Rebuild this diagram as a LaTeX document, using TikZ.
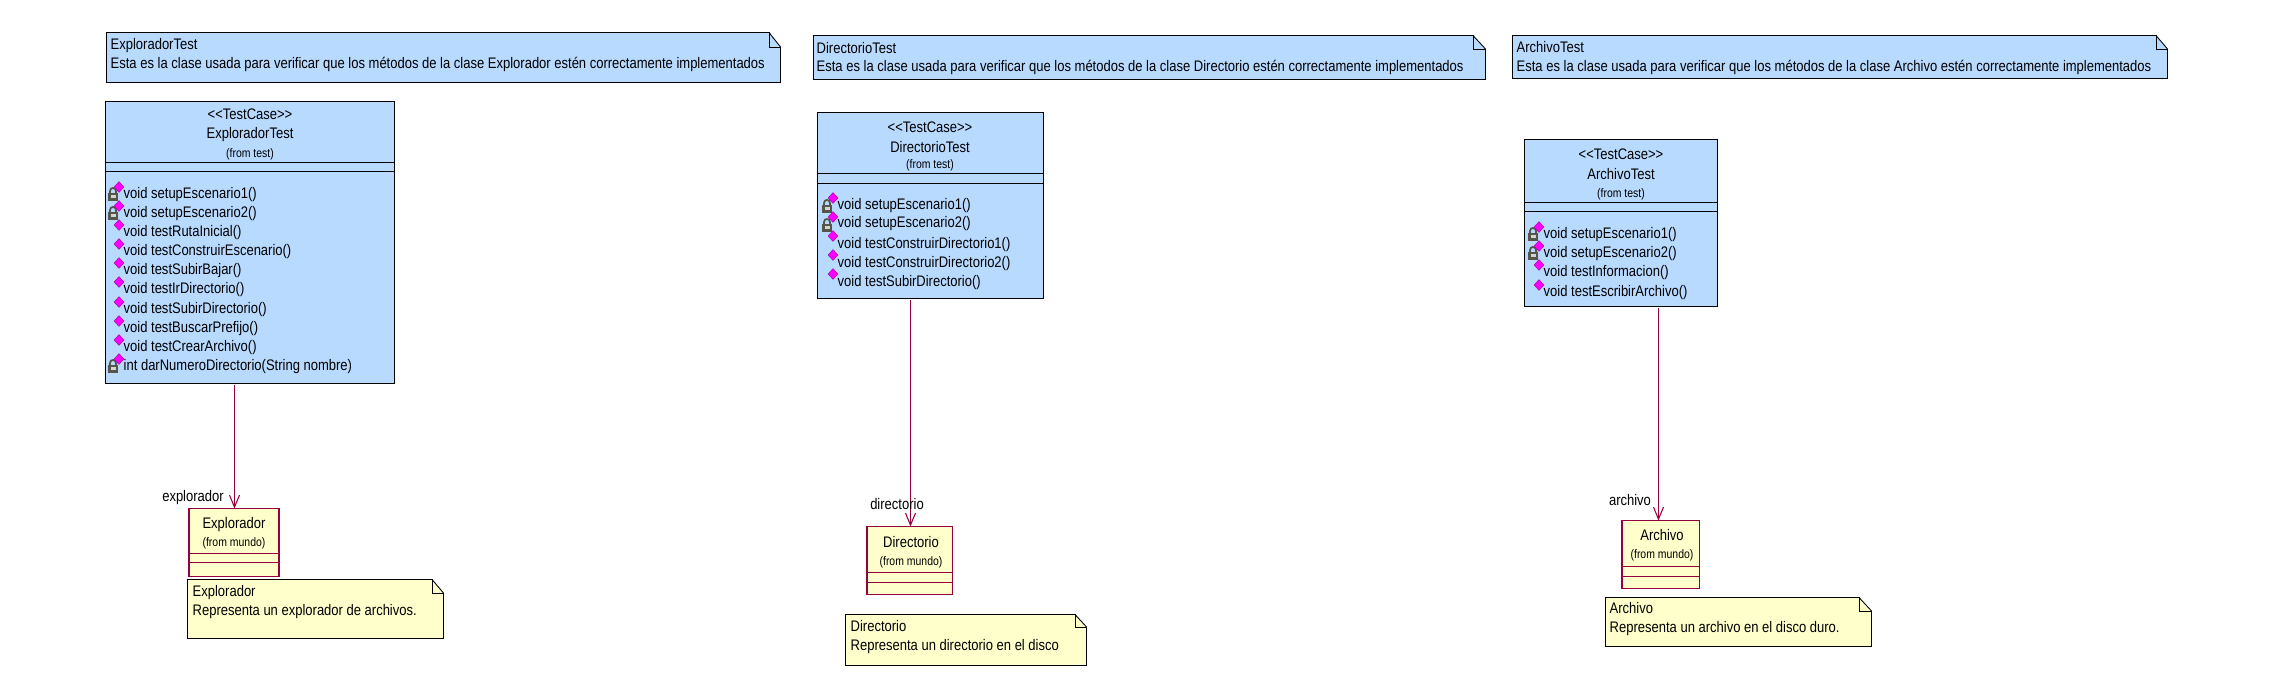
\documentclass[tikz,border=0pt]{standalone}
\usepackage{fontspec}
\setmainfont[FakeStretch=0.85]{Liberation Sans}
\usetikzlibrary{arrows.meta,shapes.geometric}
\definecolor{testblue}{RGB}{184,218,255}
\definecolor{mundoyellow}{RGB}{255,255,204}
\definecolor{mundored}{RGB}{150,0,60}
\definecolor{lockgray}{RGB}{85,85,75}
\definecolor{oppink}{RGB}{255,0,255}

\begin{document}
\begin{tikzpicture}[
    x=0.01cm, y=-0.01cm,
    testclass/.style={rectangle, draw=black, fill=testblue, line width=0.25pt, inner sep=0pt},
    mundoclass/.style={rectangle, draw=mundored, fill=mundoyellow, line width=0.3pt, inner sep=0pt},
    bluenote/.style={draw=black, fill=testblue, line width=0.25pt},
    yellownote/.style={draw=black, fill=mundoyellow, line width=0.25pt},
    sepline/.style={line width=0.25pt},
    label/.style={font=\fontsize{4.35}{5.4}\selectfont, inner sep=0pt, yshift=-0.012cm},
    small/.style={font=\fontsize{3.5}{4}\selectfont, inner sep=0pt, yshift=-0.012cm},
    notetext/.style={label, anchor=west},
    method/.style={label, anchor=west},
    op/.style={diamond, fill=oppink, draw=oppink!60!black, line width=0.1pt, inner sep=0pt, minimum width=0.10cm, minimum height=0.11cm},
    lock/.pic={
        \draw[lockgray, line width=0.5pt] (-3,1) -- (-3,-2) .. controls (-3,-6) and (3,-6) .. (3,-2) -- (3,1);
        \fill[lockgray] (-5,0) rectangle (5,8);
        \fill[white!75!lockgray] (-2.5,2) rectangle (2.5,5.5);
    },
    assoc/.style={-{Straight Barb[length=0.12cm,width=0.1cm]}, mundored, line width=0.3pt}
]
    \useasboundingbox (0,0) rectangle (2277,679);

    % notas de las clases de prueba
    \draw[bluenote] (106.5,32.5) -- (769,32.5) -- (780.5,47) -- (780.5,82.5) -- (106.5,82.5) -- cycle;
    \draw[sepline] (769,32.5) -- (769,47) -- (780.5,47);
    \node[notetext] (noteExplorador1) at (110,44) {ExploradorTest};
    \node[notetext] (noteExplorador2) at (110,63) {Esta es la clase usada para verificar que los métodos de la clase Explorador estén correctamente implementados};

    \draw[bluenote] (813.5,35.5) -- (1473,35.5) -- (1485.5,49) -- (1485.5,79.5) -- (813.5,79.5) -- cycle;
    \draw[sepline] (1473,35.5) -- (1473,49) -- (1485.5,49);
    \node[notetext] (noteDirectorio1) at (816,47) {DirectorioTest};
    \node[notetext] (noteDirectorio2) at (816,66) {Esta es la clase usada para verificar que los métodos de la clase Directorio estén correctamente implementados};

    \draw[bluenote] (1512.5,35.5) -- (2156,35.5) -- (2167.5,49) -- (2167.5,78.5) -- (1512.5,78.5) -- cycle;
    \draw[sepline] (2156,35.5) -- (2156,49) -- (2167.5,49);
    \node[notetext] (noteArchivo1) at (1516,46) {ArchivoTest};
    \node[notetext] (noteArchivo2) at (1516,66) {Esta es la clase usada para verificar que los métodos de la clase Archivo estén correctamente implementados};

    % clases de prueba
    \node[testclass, minimum width=2.89cm, minimum height=2.82cm] (exploradorTest) at (250,242.5) {};
    \draw[sepline] (105,162.5) -- (394,162.5) (105,171.5) -- (394,171.5);
    \node[label] (stereoExplorador) at (250,113) {<{}<TestCase>{}>};
    \node[label] (nameExplorador) at (250,133) {ExploradorTest};
    \node[small] (fromExplorador) at (250,153) {(from test)};

    \node[testclass, minimum width=2.25cm, minimum height=1.86cm] (directorioTest) at (930.5,205.5) {};
    \draw[sepline] (818,173.5) -- (1043,173.5) (818,183.5) -- (1043,183.5);
    \node[label] (stereoDirectorio) at (930,126) {<{}<TestCase>{}>};
    \node[label] (nameDirectorio) at (930,146) {DirectorioTest};
    \node[small] (fromDirectorio) at (930,164) {(from test)};

    \node[testclass, minimum width=1.93cm, minimum height=1.67cm] (archivoTest) at (1620.5,223) {};
    \draw[sepline] (1524,202.5) -- (1717,202.5) (1524,211.5) -- (1717,211.5);
    \node[label] (stereoArchivo) at (1621,153) {<{}<TestCase>{}>};
    \node[label] (nameArchivo) at (1621,173) {ArchivoTest};
    \node[small] (fromArchivo) at (1621,193) {(from test)};

    % operaciones de ExploradorTest
    \pic at (113,193) {lock};
    \pic at (113,212) {lock};
    \pic at (113,365) {lock};
    \node[op] (opE1) at (119,187) {};
    \node[op] (opE2) at (119,206) {};
    \node[op] (opE3) at (119,225) {};
    \node[op] (opE4) at (119,244) {};
    \node[op] (opE5) at (119,263) {};
    \node[op] (opE6) at (119,282) {};
    \node[op] (opE7) at (119,302) {};
    \node[op] (opE8) at (119,321) {};
    \node[op] (opE9) at (119,340) {};
    \node[op] (opE10) at (119,359) {};
    \node[method] (e1) at (123,193) {void setupEscenario1()};
    \node[method] (e2) at (123,212) {void setupEscenario2()};
    \node[method] (e3) at (123,231) {void testRutaInicial()};
    \node[method] (e4) at (123,250) {void testConstruirEscenario()};
    \node[method] (e5) at (123,269) {void testSubirBajar()};
    \node[method] (e6) at (123,288) {void testIrDirectorio()};
    \node[method] (e7) at (123,308) {void testSubirDirectorio()};
    \node[method] (e8) at (123,327) {void testBuscarPrefijo()};
    \node[method] (e9) at (123,346) {void testCrearArchivo()};
    \node[method] (e10) at (123,365) {int darNumeroDirectorio(String nombre)};

    % operaciones de DirectorioTest
    \pic at (827,205) {lock};
    \pic at (827,224) {lock};
    \node[op] (opD1) at (833,198) {};
    \node[op] (opD2) at (833,217) {};
    \node[op] (opD3) at (833,236) {};
    \node[op] (opD4) at (833,255) {};
    \node[op] (opD5) at (833,274) {};
    \node[method] (d1) at (837,204) {void setupEscenario1()};
    \node[method] (d2) at (837,222) {void setupEscenario2()};
    \node[method] (d3) at (837,243) {void testConstruirDirectorio1()};
    \node[method] (d4) at (837,262) {void testConstruirDirectorio2()};
    \node[method] (d5) at (837,281) {void testSubirDirectorio()};

    % operaciones de ArchivoTest
    \pic at (1533,233) {lock};
    \pic at (1533,252) {lock};
    \node[op] (opA1) at (1539,227) {};
    \node[op] (opA2) at (1539,246) {};
    \node[op] (opA3) at (1539,265) {};
    \node[op] (opA4) at (1539,285) {};
    \node[method] (a1) at (1543,233) {void setupEscenario1()};
    \node[method] (a2) at (1543,252) {void setupEscenario2()};
    \node[method] (a3) at (1543,271) {void testInformacion()};
    \node[method] (a4) at (1543,291) {void testEscribirArchivo()};

    % clases del mundo
    \node[mundoclass, minimum width=0.90cm, minimum height=0.68cm] (explorador) at (234,542.5) {};
    \draw[mundored, sepline] (189,553.5) -- (279,553.5) (189,562.5) -- (279,562.5);
    \node[label] (nameExploradorM) at (234,523) {Explorador};
    \node[small] (fromExploradorM) at (234,542) {(from mundo)};

    \node[mundoclass, minimum width=0.85cm, minimum height=0.68cm] (directorio) at (909.5,560.5) {};
    \draw[mundored, sepline] (867,572.5) -- (952,572.5) (867,582.5) -- (952,582.5);
    \node[label] (nameDirectorioM) at (911,541) {Directorio};
    \node[small] (fromDirectorioM) at (911,561) {(from mundo)};

    \node[mundoclass, minimum width=0.77cm, minimum height=0.68cm] (archivo) at (1660.5,554.5) {};
    \draw[mundored, sepline] (1622,566.5) -- (1699,566.5) (1622,576.5) -- (1699,576.5);
    \node[label] (nameArchivoM) at (1662,534) {Archivo};
    \node[small] (fromArchivoM) at (1662,554) {(from mundo)};

    % asociaciones
    \coordinate (startExplorador) at (234.5,385);
    \coordinate (endExplorador) at (234.5,508.5);
    \coordinate (startDirectorio) at (910.5,300);
    \coordinate (endDirectorio) at (910.5,526.5);
    \coordinate (startArchivo) at (1658.5,308);
    \coordinate (endArchivo) at (1658.5,520.5);
    \draw[assoc] (startExplorador) -- (endExplorador);
    \draw[assoc] (startDirectorio) -- (endDirectorio);
    \draw[assoc] (startArchivo) -- (endArchivo);
    \node[label] (roleExplorador) at (193,496) {explorador};
    \node[label] (roleDirectorio) at (897,503) {directorio};
    \node[label] (roleArchivo) at (1630,499) {archivo};

    % notas de las clases del mundo
    \draw[yellownote] (187.5,579.5) -- (432,579.5) -- (443.5,593) -- (443.5,638.5) -- (187.5,638.5) -- cycle;
    \draw[sepline] (432,579.5) -- (432,593) -- (443.5,593);
    \node[notetext] (noteExploradorM1) at (192,591) {Explorador};
    \node[notetext] (noteExploradorM2) at (192,610) {Representa un explorador de archivos.};

    \draw[yellownote] (845.5,614.5) -- (1075,614.5) -- (1086.5,627) -- (1086.5,665.5) -- (845.5,665.5) -- cycle;
    \draw[sepline] (1075,614.5) -- (1075,627) -- (1086.5,627);
    \node[notetext] (noteDirectorioM1) at (850,625) {Directorio};
    \node[notetext] (noteDirectorioM2) at (850,645) {Representa un directorio en el disco};

    \draw[yellownote] (1605.5,597.5) -- (1859,597.5) -- (1871.5,611) -- (1871.5,646.5) -- (1605.5,646.5) -- cycle;
    \draw[sepline] (1859,597.5) -- (1859,611) -- (1871.5,611);
    \node[notetext] (noteArchivoM1) at (1609,607) {Archivo};
    \node[notetext] (noteArchivoM2) at (1609,627) {Representa un archivo en el disco duro.};
\end{tikzpicture}
\end{document}
